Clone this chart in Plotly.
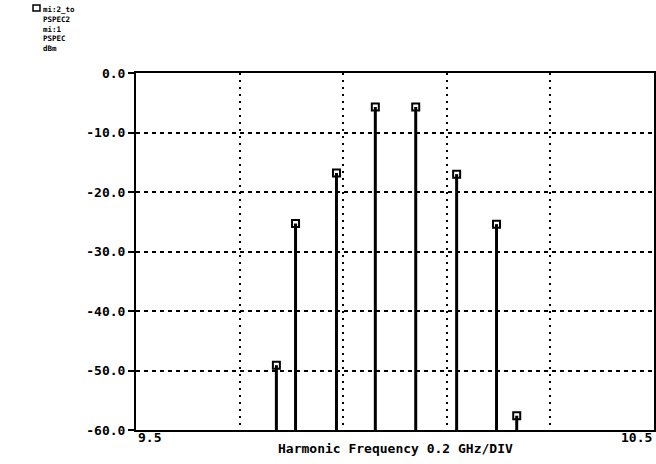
import plotly.graph_objects as go

# Data
freq_ghz = [9.771, 9.808, 9.887, 9.962, 10.040, 10.119, 10.196, 10.235]
power_dbm = [-49.1, -25.3, -16.8, -5.7, -5.7, -17.0, -25.4, -57.6]
y_ticks = [0, -10, -20, -30, -40, -50, -60]
y_tick_labels = ["0.0", "-10.0", "-20.0", "-30.0", "-40.0", "-50.0", "-60.0"]
x_min, x_max = 9.5, 10.5
y_min, y_max = -60, 0
header_lines = ["mi:2_to", "PSPEC2", "mi:1", "PSPEC", "dBm"]

W, H = 656, 464
ML, MR, MT, MB = 136, 2, 73, 34
PW = W - ML - MR
PH = H - MT - MB

def px(x):
    return (x - ML) / PW

def py(y):
    return (H - MB - y) / PH

FONT = "DejaVu Sans Mono"

fig = go.Figure()
fig.add_trace(go.Scatter(
    x=freq_ghz, y=power_dbm, mode="markers",
    marker=dict(symbol="square-open", size=7, color="black", line=dict(width=2, color="black")),
    error_y=dict(type="data", symmetric=False,
                 array=[0] * len(power_dbm),
                 arrayminus=[p - y_min for p in power_dbm],
                 width=0, thickness=3, color="black"),
    showlegend=False, cliponaxis=False,
))

fig.update_layout(
    width=W, height=H,
    margin=dict(l=ML, r=MR, t=MT, b=MB, autoexpand=False),
    paper_bgcolor="white", plot_bgcolor="white",
    font=dict(family=FONT, color="black", size=11),
    xaxis=dict(range=[x_min, x_max], dtick=0.2, tick0=9.5, showticklabels=False,
               showgrid=True, gridcolor="black", griddash="2px,5px", gridwidth=1.5,
               showline=True, linecolor="black", linewidth=2, mirror=True,
               zeroline=False, ticks=""),
    yaxis=dict(range=[y_min, y_max], tickvals=y_ticks, ticktext=y_tick_labels,
               showgrid=True, gridcolor="black", griddash="4px,4px", gridwidth=1.5,
               showline=True, linecolor="black", linewidth=2, mirror=True,
               zeroline=False, ticks="outside", ticklen=6, tickwidth=1.5, tickcolor="black",
               tickfont=dict(family=FONT, size=13, weight="bold")),
)

# x range labels
fig.add_annotation(x=x_min, y=0, xref="x", yref="paper", text=str(x_min),
                   showarrow=False, xanchor="left", yanchor="top", yshift=2, xshift=0,
                   font=dict(family=FONT, size=13, weight="bold"))
fig.add_annotation(x=x_max, y=0, xref="x", yref="paper", text=str(x_max),
                   showarrow=False, xanchor="right", yanchor="top", yshift=2, xshift=0,
                   font=dict(family=FONT, size=13, weight="bold"))
fig.add_annotation(x=0.5, y=py(448), xref="paper", yref="paper",
                   text="Harmonic Frequency 0.2 GHz/DIV",
                   showarrow=False, xanchor="center", yanchor="middle",
                   font=dict(family=FONT, size=13, weight="bold"))

# header
fig.add_shape(type="rect", xref="paper", yref="paper",
              x0=px(33), x1=px(40), y0=py(11), y1=py(5),
              line=dict(color="black", width=1.5))
fig.add_annotation(x=px(41), y=py(3), xref="paper", yref="paper",
                   text="<br>".join(header_lines),
                   showarrow=False, xanchor="left", yanchor="top", align="left",
                   font=dict(family=FONT, size=7.5, weight="bold"))

fig.write_html("out.html", config={"displayModeBar": False},
               post_script="document.body.style.margin='0';")
